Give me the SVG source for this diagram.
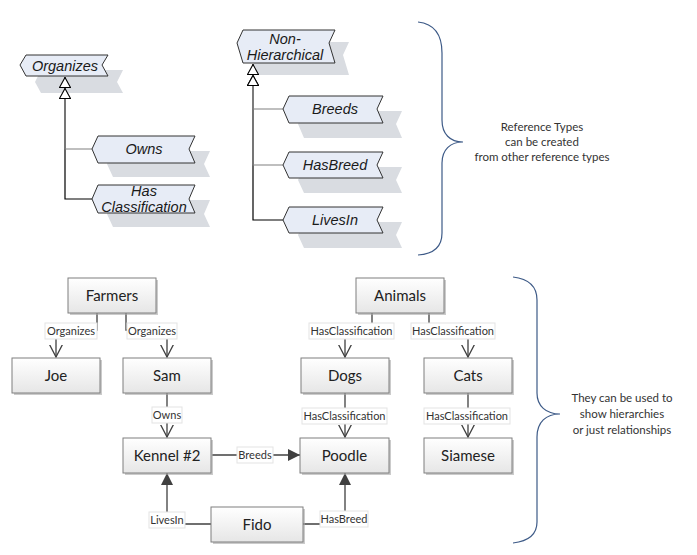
<svg xmlns="http://www.w3.org/2000/svg" width="697" height="555" viewBox="0 0 697 555">
<style>
.rt{fill:#e7ecf6;stroke:#333;stroke-width:1}
.sh{fill:#d9dce1}
.it{font-family:"Liberation Sans",Arial,sans-serif;font-style:italic;font-size:14.5px;fill:#1a1a1a;text-anchor:middle}
.note{font-family:Lato,"Open Sans",sans-serif;font-size:11.5px;fill:#333;text-anchor:middle}
.box{fill:url(#g);stroke:#7f7f7f;stroke-width:1}
.bsh{fill:#a8a8a8;opacity:.6}
.bt{font-family:Lato,"Open Sans",sans-serif;font-size:15px;fill:#222;text-anchor:middle}
.lb{fill:#fff;stroke:#e3e3e3;stroke-width:1}
.lt{font-family:Lato,"Open Sans",sans-serif;font-size:11px;fill:#333;text-anchor:middle}
.hk{fill:none;stroke:#000;stroke-width:1.2}
.hg{fill:none;stroke:#808080;stroke-width:1.2}
.c{fill:none;stroke:#404040;stroke-width:1.3}
.brace{fill:none;stroke:#3d5a87;stroke-width:1.2}
</style>
<defs>
<linearGradient id="g" x1="0" y1="0" x2="0" y2="1"><stop offset="0" stop-color="#ffffff"/><stop offset="1" stop-color="#e6e6e6"/></linearGradient>
<marker id="tri" viewBox="0 0 11 12" refX="11" refY="6" markerWidth="11" markerHeight="12" markerUnits="userSpaceOnUse" orient="auto"><path d="M0.5,0.5 L10.5,6 L0.5,11.5 Z" fill="#fff" stroke="#000" stroke-width="1.1"/></marker>
<marker id="open" viewBox="0 0 13 14" refX="12.5" refY="7" markerWidth="13" markerHeight="14" markerUnits="userSpaceOnUse" orient="auto"><path d="M0,0.5 L12.5,7 L0,13.5" fill="none" stroke="#404040" stroke-width="1.3"/></marker>
<marker id="fill" viewBox="0 0 12 12" refX="12" refY="6" markerWidth="12" markerHeight="12" markerUnits="userSpaceOnUse" orient="auto"><path d="M0,0 L12,6 L0,12 Z" fill="#404040"/></marker>
</defs>

<g id="shadows">
<polygon class="sh" points="35,82 41,70 123,70 117,82 123,93 41,93"/>
<polygon class="sh" points="107,164 113,151 210,151 204,164 210,177 113,177"/>
<polygon class="sh" points="107,214 113,200 210,200 204,214 210,227 113,227"/>
<polygon class="sh" points="251,55 257,42 349,42 343,55 349,75 257,75"/>
<polygon class="sh" points="298,124 304,111 402,111 396,124 402,138 304,138"/>
<polygon class="sh" points="298,180 304,167 402,167 396,180 402,193 304,193"/>
<polygon class="sh" points="298,235 304,222 402,222 396,235 402,248 304,248"/>
</g>

<g id="connectors">
<path class="hk" d="M92,199 H65 V77" marker-end="url(#tri)"/>
<path class="hg" d="M92,149 H65 V88" marker-end="url(#tri)"/>
<path class="hk" d="M283,220 H253 V64" marker-end="url(#tri)"/>
<path class="hg" d="M283,165 H253 V75" marker-end="url(#tri)"/>
<path class="hg" d="M283,109 H253 V75" marker-end="url(#tri)"/>

<path class="c" d="M97,313 V330 H56 V357" marker-end="url(#open)"/>
<path class="c" d="M126,313 V330 H167 V357" marker-end="url(#open)"/>
<path class="c" d="M167,393 V437" marker-end="url(#open)"/>
<path class="c" d="M372,313 V330 H345 V357" marker-end="url(#open)"/>
<path class="c" d="M429,313 V330 H468 V357" marker-end="url(#open)"/>
<path class="c" d="M345,393 V437" marker-end="url(#open)"/>
<path class="c" d="M468,393 V437" marker-end="url(#open)"/>
<path class="c" d="M212,455 H300" marker-end="url(#fill)"/>
<path class="c" d="M211,524 H167 V473" marker-end="url(#fill)"/>
<path class="c" d="M303,524 H345 V473" marker-end="url(#fill)"/>

<rect class="lb" x="45" y="323" width="52" height="16"/><text class="lt" x="71" y="335">Organizes</text>
<rect class="lb" x="127" y="323" width="50" height="16"/><text class="lt" x="152" y="335">Organizes</text>
<rect class="lb" x="309" y="323" width="85" height="16"/><text class="lt" x="351.5" y="335">HasClassification</text>
<rect class="lb" x="411" y="323" width="84" height="16"/><text class="lt" x="453" y="335">HasClassification</text>
<rect class="lb" x="152" y="407" width="30" height="16"/><text class="lt" x="167" y="419">Owns</text>
<rect class="lb" x="302" y="408" width="85" height="16"/><text class="lt" x="344.5" y="420">HasClassification</text>
<rect class="lb" x="424" y="408" width="86" height="16"/><text class="lt" x="467" y="420">HasClassification</text>
<rect class="lb" x="237" y="447" width="36" height="16"/><text class="lt" x="255" y="459">Breeds</text>
<rect class="lb" x="149" y="512" width="36" height="16"/><text class="lt" x="167" y="524">LivesIn</text>
<rect class="lb" x="320" y="511" width="48" height="16"/><text class="lt" x="344" y="523">HasBreed</text>
</g>

<g id="organizes"><polygon class="rt" points="20,65 26,55 108,55 102,65 108,76 26,76"/><text class="it" x="65" y="71">Organizes</text></g>
<g id="owns"><polygon class="rt" points="92,149 98,136 195,136 189,149 195,163 98,163"/><text class="it" x="144" y="154">Owns</text></g>
<g id="hasclassification"><polygon class="rt" points="92,199 98,185 195,185 189,199 195,213 98,213"/><text class="it" x="144" y="196">Has</text><text class="it" x="144" y="212">Classification</text></g>
<g id="nonhierarchical"><polygon class="rt" points="237,43 243,30 335,30 329,43 335,63 243,63"/><text class="it" x="285" y="44">Non-</text><text class="it" x="285" y="60">Hierarchical</text></g>
<g id="breeds"><polygon class="rt" points="283,109 289,96 383,96 377,109 383,123 289,123"/><text class="it" x="335" y="114">Breeds</text></g>
<g id="hasbreed"><polygon class="rt" points="283,165 289,152 383,152 377,165 383,178 289,178"/><text class="it" x="335" y="170">HasBreed</text></g>
<g id="livesin"><polygon class="rt" points="283,220 289,207 383,207 377,220 383,233 289,233"/><text class="it" x="335" y="225">LivesIn</text></g>

<g id="brace1"><path class="brace" d="M418,22 C436,24 442,36 442,53 V120 C442,134 450,142 463,142 C450,142 442,150 442,163 V233 C442,246 434,254 418,255"/>
<text class="note" x="542" y="131">Reference Types</text><text class="note" x="542" y="146">can be created</text><text class="note" x="542" y="161">from other reference types</text></g>
<g id="brace2"><path class="brace" d="M513,277 C530,279 537,287 537,300 V393 C537,406 546,414 560,414 C546,414 537,422 537,437 V522 C537,534 530,541 513,543"/>
<text class="note" x="622" y="402">They can be used to</text><text class="note" x="622" y="418">show hierarchies</text><text class="note" x="622" y="434">or just relationships</text></g>

<g id="farmers"><rect class="bsh" x="70" y="280" width="88" height="35"/><rect class="box" x="68" y="278" width="88" height="35"/><text class="bt" x="112" y="301">Farmers</text></g>
<g id="joe"><rect class="bsh" x="14" y="360" width="88" height="35"/><rect class="box" x="12" y="358" width="88" height="35"/><text class="bt" x="56" y="381">Joe</text></g>
<g id="sam"><rect class="bsh" x="125" y="360" width="88" height="35"/><rect class="box" x="123" y="358" width="88" height="35"/><text class="bt" x="167" y="381">Sam</text></g>
<g id="kennel"><rect class="bsh" x="125" y="440" width="88" height="35"/><rect class="box" x="123" y="438" width="88" height="35"/><text class="bt" x="167" y="461">Kennel #2</text></g>
<g id="animals"><rect class="bsh" x="358" y="280" width="88" height="35"/><rect class="box" x="356" y="278" width="88" height="35"/><text class="bt" x="400" y="301">Animals</text></g>
<g id="dogs"><rect class="bsh" x="303" y="360" width="88" height="35"/><rect class="box" x="301" y="358" width="88" height="35"/><text class="bt" x="345" y="381">Dogs</text></g>
<g id="cats"><rect class="bsh" x="426" y="360" width="88" height="35"/><rect class="box" x="424" y="358" width="88" height="35"/><text class="bt" x="468" y="381">Cats</text></g>
<g id="poodle"><rect class="bsh" x="302" y="440" width="89" height="35"/><rect class="box" x="300" y="438" width="89" height="35"/><text class="bt" x="344.5" y="461">Poodle</text></g>
<g id="siamese"><rect class="bsh" x="426" y="440" width="88" height="35"/><rect class="box" x="424" y="438" width="88" height="35"/><text class="bt" x="468" y="461">Siamese</text></g>
<g id="fido"><rect class="bsh" x="213" y="509" width="92" height="35"/><rect class="box" x="211" y="507" width="92" height="35"/><text class="bt" x="257" y="530">Fido</text></g>
</svg>
